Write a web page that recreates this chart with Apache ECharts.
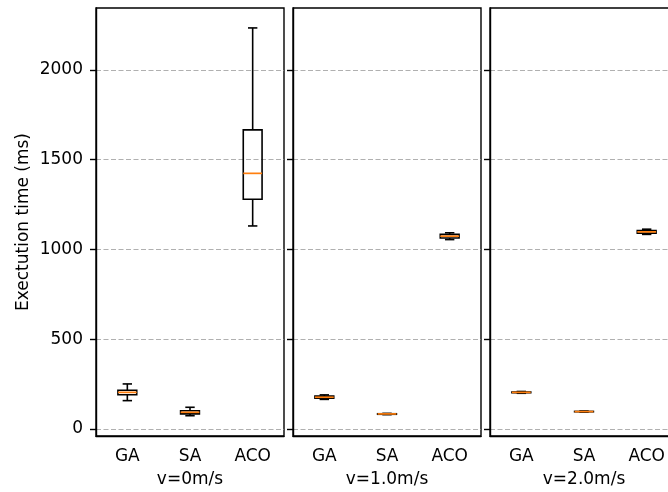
<!DOCTYPE html>
<html>
<head>
<meta charset="utf-8">
<script src="https://cdn.jsdelivr.net/npm/echarts@6/dist/echarts.min.js"></script>
<style>
  html, body { margin: 0; padding: 0; background: #fff; }
  #chart { width: 668px; height: 492px; }
</style>
</head>
<body>
<div id="chart"></div>
<script>
// Algorithms compared in every panel
const algorithms = ['GA', 'SA', 'ACO'];
// Panel titles (vehicle speed)
const speeds = ['v=0m/s', 'v=1.0m/s', 'v=2.0m/s'];
// Y-axis tick values (ms)
const yTicks = [0, 500, 1000, 1500, 2000];

// Five-number summaries per algorithm: [lower whisker, Q1, median, Q3, upper whisker]
const statsV0 = [
  [158, 191, 204, 216, 251],
  [74, 84, 93, 102, 121],
  [1131, 1280, 1424, 1666, 2234]
];
const statsV1 = [
  [165, 172, 177, 183, 190],
  [80, 82, 84, 85, 87],
  [1055, 1064, 1074, 1084, 1093]
];
const statsV2 = [
  [199, 202, 204, 206, 209],
  [94, 96, 97, 98, 100],
  [1084, 1091, 1098, 1105, 1113]
];

const panelStats = [statsV0, statsV1, statsV2];

const FONT = 'DejaVu Sans';
const FONT_SIZE = 17;
const Y_MIN = -39, Y_MAX = 2345;
const panelLeft = [96, 293, 490];
const panelWidth = 188;

// Draws one box-and-whisker glyph: black box, whiskers, caps and orange median
function renderBox(params, api) {
  const c = api.value(0);
  const band = api.size([1, 0])[0];
  const half = band * 0.15;
  const capHalf = half / 2;
  const pLo = api.coord([c, api.value(1)]);
  const pQ1 = api.coord([c, api.value(2)]);
  const pMed = api.coord([c, api.value(3)]);
  const pQ3 = api.coord([c, api.value(4)]);
  const pHi = api.coord([c, api.value(5)]);
  const x = pMed[0];
  const black = { stroke: '#000', lineWidth: 1.6, fill: null };
  return {
    type: 'group',
    children: [
      { type: 'line', shape: { x1: x, y1: pLo[1], x2: x, y2: pQ1[1] }, style: black },
      { type: 'line', shape: { x1: x, y1: pQ3[1], x2: x, y2: pHi[1] }, style: black },
      { type: 'line', shape: { x1: x - capHalf, y1: pLo[1], x2: x + capHalf, y2: pLo[1] }, style: black },
      { type: 'line', shape: { x1: x - capHalf, y1: pHi[1], x2: x + capHalf, y2: pHi[1] }, style: black },
      { type: 'rect', shape: { x: x - half, y: pQ3[1], width: half * 2, height: pQ1[1] - pQ3[1] }, style: black },
      { type: 'line', shape: { x1: x - half, y1: pMed[1], x2: x + half, y2: pMed[1] }, style: { stroke: '#ff7f0e', lineWidth: 1.7 } }
    ]
  };
}

const grids = [], xAxes = [], yAxes = [], series = [];
panelStats.forEach((stats, i) => {
  grids.push({
    left: panelLeft[i], width: panelWidth, top: 8, height: 428,
    outerBoundsMode: 'none', containLabel: false,
    show: true, borderColor: '#000', borderWidth: 1.4, backgroundColor: '#fff'
  });
  xAxes.push({
    type: 'category', gridIndex: i, data: algorithms, boundaryGap: true,
    name: speeds[i], nameLocation: 'middle', nameGap: 35,
    nameTextStyle: { fontFamily: FONT, fontSize: FONT_SIZE, color: '#000' },
    axisLine: { onZero: false, lineStyle: { color: '#000', width: 1.4 } },
    axisTick: { alignWithLabel: true, length: 6, lineStyle: { color: '#000', width: 1.4 } },
    axisLabel: { fontFamily: FONT, fontSize: FONT_SIZE, color: '#000', margin: 12 },
    splitLine: { show: false }
  });
  yAxes.push({
    type: 'value', gridIndex: i, min: Y_MIN, max: Y_MAX,
    name: i === 0 ? 'Exectution time (ms)' : '',
    nameLocation: 'middle', nameGap: 64,
    nameTextStyle: { fontFamily: FONT, fontSize: FONT_SIZE, color: '#000' },
    axisLine: { show: true, onZero: false, lineStyle: { color: '#000', width: 1.4 } },
    axisTick: { show: true, length: 6, customValues: yTicks, lineStyle: { color: '#000', width: 1.4 } },
    axisLabel: {
      show: i === 0, customValues: yTicks, formatter: v => String(v),
      fontFamily: FONT, fontSize: FONT_SIZE, color: '#000', margin: 13
    },
    splitLine: { show: true, lineStyle: { color: '#b0b0b0', width: 1.2, type: [5, 2.5] } }
  });
  series.push({
    type: 'custom', xAxisIndex: i, yAxisIndex: i,
    renderItem: renderBox,
    encode: { x: 0, y: [1, 2, 3, 4, 5] },
    data: stats.map((s, k) => [k].concat(s)),
    silent: true, z: 5
  });
});

const chart = echarts.init(document.getElementById('chart'), null, { renderer: 'canvas' });
chart.setOption({
  animation: false,
  backgroundColor: '#fff',
  grid: grids,
  xAxis: xAxes,
  yAxis: yAxes,
  series: series
});
</script>
</body>
</html>
